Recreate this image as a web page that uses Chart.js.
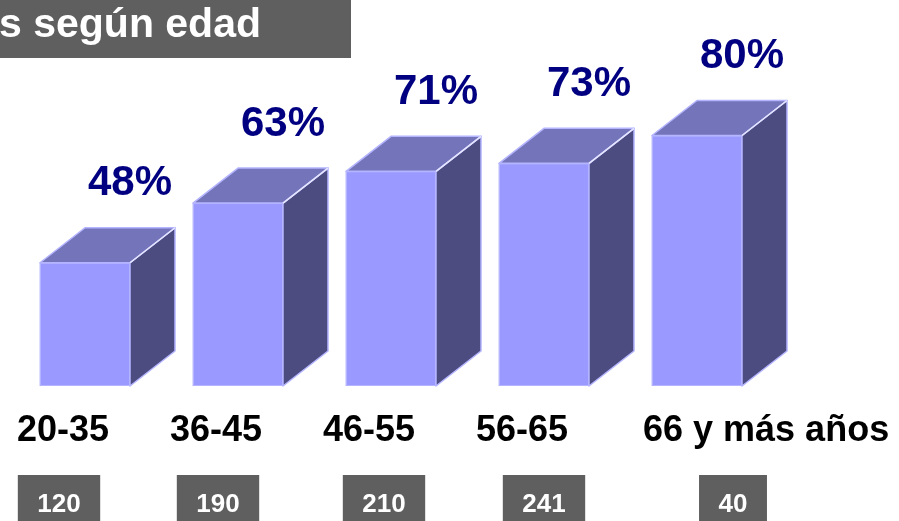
<!DOCTYPE html>
<html>
<head>
<meta charset="utf-8">
<script src="https://cdn.jsdelivr.net/npm/chart.js@4/dist/chart.umd.min.js"></script>
<style>
  html, body { margin: 0; padding: 0; background: #ffffff; }
  canvas { display: block; }
</style>
</head>
<body>
<canvas id="chart" width="899" height="521"></canvas>
<script>
// Age groups, share per group (%) and number of respondents per group
const categories = ['20-35', '36-45', '46-55', '56-65', '66 y más años'];
const shares = [48, 63, 71, 73, 80];
const respondents = [120, 190, 210, 241, 40];
const titleText = 's según edad';

// Value axis range
const Y_MIN = 17;
const Y_MAX = 100;

// Presentation settings
const FONT = '"Liberation Sans", Arial, Helvetica, sans-serif';
const FRONT = '#9999ff';
const TOP = '#7474ba';
const SIDE = '#4c4c80';
const EDGE = '#b4b4ff';
const DEPTH_X = 45;
const DEPTH_Y = -35;
const BOX_NUDGE = [-26, -20, -7, 0, 36];

const cubePlugin = {
  id: 'cube',
  beforeDraw(chart) {
    const ctx = chart.ctx;
    ctx.save();
    ctx.fillStyle = '#ffffff';
    ctx.fillRect(0, 0, chart.width, chart.height);
    ctx.restore();
  },
  afterDatasetsDraw(chart) {
    const ctx = chart.ctx;
    const meta = chart.getDatasetMeta(0);
    ctx.save();
    ctx.lineJoin = 'round';
    meta.data.forEach((bar, i) => {
      const p = bar.getProps(['x', 'y', 'base', 'width'], true);
      const l = p.x - p.width / 2, r = p.x + p.width / 2;
      const t = p.y, b = Math.min(p.base, chart.chartArea.bottom);
      // side face
      ctx.beginPath();
      ctx.moveTo(r, t);
      ctx.lineTo(r + DEPTH_X, t + DEPTH_Y);
      ctx.lineTo(r + DEPTH_X, b + DEPTH_Y);
      ctx.lineTo(r, b);
      ctx.closePath();
      ctx.fillStyle = SIDE;
      ctx.fill();
      ctx.strokeStyle = EDGE;
      ctx.lineWidth = 1.5;
      ctx.stroke();
      // top face
      ctx.beginPath();
      ctx.moveTo(l, t);
      ctx.lineTo(l + DEPTH_X, t + DEPTH_Y);
      ctx.lineTo(r + DEPTH_X, t + DEPTH_Y);
      ctx.lineTo(r, t);
      ctx.closePath();
      ctx.fillStyle = TOP;
      ctx.fill();
      ctx.stroke();
      // front edges
      ctx.strokeStyle = EDGE;
      ctx.lineWidth = 1;
      ctx.strokeRect(l + 0.5, t + 0.5, p.width - 1, b - t - 1);
      ctx.beginPath();
      ctx.moveTo(r, t);
      ctx.lineTo(r + DEPTH_X, t + DEPTH_Y);
      ctx.strokeStyle = '#e6e6ff';
      ctx.lineWidth = 1.5;
      ctx.stroke();

      // value label above the cube
      ctx.fillStyle = '#000080';
      ctx.font = 'bold 42px ' + FONT;
      ctx.textAlign = 'center';
      ctx.textBaseline = 'middle';
      ctx.fillText(shares[i] + '%', p.x + DEPTH_X, t - 79);

      // category label
      ctx.fillStyle = '#000000';
      ctx.font = 'bold 36px ' + FONT;
      ctx.textAlign = 'left';
      ctx.textBaseline = 'alphabetic';
      const lx = i === categories.length - 1 ? l - 9 : l - 23;
      ctx.fillText(categories[i], lx, 441);

      // respondents box
      ctx.font = 'bold 26px ' + FONT;
      const txt = String(respondents[i]);
      const w = ctx.measureText(txt).width + 39;
      const cx = p.x + BOX_NUDGE[i];
      ctx.fillStyle = '#5f5f5f';
      ctx.fillRect(cx - w / 2, 475, w, 46);
      ctx.fillStyle = '#ffffff';
      ctx.textAlign = 'center';
      ctx.fillText(txt, cx, 512);
    });
    ctx.restore();
  },
  afterDraw(chart) {
    const ctx = chart.ctx;
    ctx.save();
    ctx.fillStyle = '#5f5f5f';
    ctx.fillRect(0, 0, 351, 58);
    ctx.fillStyle = '#ffffff';
    ctx.font = 'bold 41px ' + FONT;
    ctx.textAlign = 'left';
    ctx.textBaseline = 'alphabetic';
    ctx.fillText(titleText, -1, 37);
    ctx.restore();
  }
};

new Chart(document.getElementById('chart'), {
  type: 'bar',
  data: {
    labels: categories,
    datasets: [{
      data: shares,
      base: Y_MIN,
      backgroundColor: FRONT,
      borderWidth: 0,
      barThickness: 90
    }]
  },
  options: {
    responsive: false,
    animation: false,
    layout: { padding: { left: 8.5, right: 125.5, top: 56, bottom: 135 } },
    plugins: { legend: { display: false }, tooltip: { enabled: false } },
    scales: {
      x: { display: false, offset: true },
      y: { display: false, min: Y_MIN, max: Y_MAX }
    }
  },
  plugins: [cubePlugin]
});
</script>
</body>
</html>
